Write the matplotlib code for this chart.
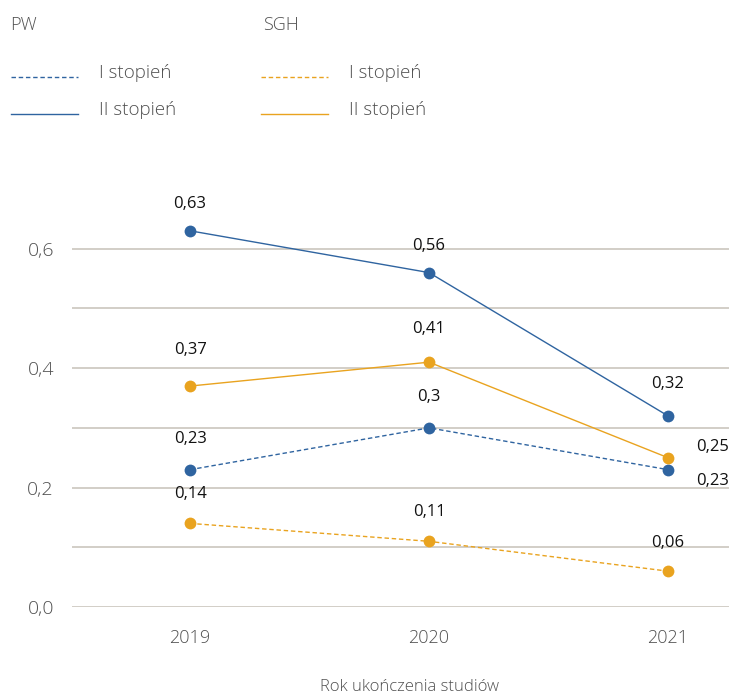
import matplotlib
matplotlib.use("Agg")
import matplotlib.pyplot as plt
from matplotlib.lines import Line2D

years = ["2019", "2020", "2021"]
pw_1 = [0.23, 0.30, 0.23]
pw_2 = [0.63, 0.56, 0.32]
sgh_1 = [0.14, 0.11, 0.06]
sgh_2 = [0.37, 0.41, 0.25]
yticks_major = [0.0, 0.2, 0.4, 0.6]
ytick_labels = ["0,0", "0,2", "0,4", "0,6"]
gridlines = [0.0, 0.1, 0.2, 0.3, 0.4, 0.5, 0.6]
xlabel = "Rok ukończenia studiów"

BLUE = "#2F64A0"
ORANGE = "#E9A31F"
GRID = "#CFCAC3"
TICK = "#505050"
FONT = ["Open Sans", "DejaVu Sans"]

plt.rcParams["font.family"] = FONT

fig = plt.figure(figsize=(7.29, 6.95), dpi=100)
ax = fig.add_axes([72/729, 88/695, 657/729, 418/695])

x = list(range(len(years)))
series = [
    (pw_1, BLUE, "--"),
    (pw_2, BLUE, "-"),
    (sgh_1, ORANGE, "--"),
    (sgh_2, ORANGE, "-"),
]
for vals, col, ls in series:
    ln, = ax.plot(x, vals, color=col, lw=1.0, marker="o", markersize=8.5,
                  markeredgewidth=0, zorder=3)
    if ls == "--":
        ln.set_dashes((3.2, 2.0))

def fmt(v):
    s = ("%.2f" % v).rstrip("0")
    if s.endswith("."):
        s = s[:-1]
    return s.replace(".", ",")

# data labels
def lab(xi, v, dx=0, dy=22, ha="center"):
    ax.annotate(fmt(v), (xi, v), xytext=(dx, dy), textcoords="offset points",
                ha=ha, va="center", fontsize=12, color="#111111")

for i in range(2):
    lab(i, pw_1[i], dy=22)
    lab(i, pw_2[i], dy=19)
    lab(i, sgh_1[i], dy=21)
    lab(i, sgh_2[i], dy=26 if i == 0 else 24)
lab(2, pw_2[2], dy=23)
lab(2, sgh_1[2], dy=20)
lab(2, sgh_2[2], dx=32, dy=8)
lab(2, pw_1[2], dx=32, dy=-8)

ax.set_xlim(-0.494, 2.255)
ax.set_ylim(0, 0.7)
for g in gridlines:
    ax.axhline(g, color=GRID, lw=1.3, zorder=1)

ax.set_yticks(yticks_major)
ax.set_yticklabels(ytick_labels)
ax.set_xticks(x)
ax.set_xticklabels(years)
ax.tick_params(axis="y", length=0, pad=13, labelsize=14, labelcolor=TICK)
ax.tick_params(axis="x", length=0, pad=16, labelsize=13, labelcolor=TICK)
for lbl in ax.get_xticklabels() + ax.get_yticklabels():
    lbl.set_fontweight("light")
for s in ax.spines.values():
    s.set_visible(False)

fig.text(410/729, 1 - 687/695, xlabel, ha="center", va="center",
         fontsize=12, color=TICK, fontweight="light")

# legend
def fx(px):
    return px / 729
def fy(py):
    return 1 - py / 695

fig.text(fx(10), fy(25), "PW", fontsize=13, color=TICK, va="center", fontweight="light")
fig.text(fx(263), fy(25), "SGH", fontsize=13, color=TICK, va="center", fontweight="light")
for x0, col in [(11, BLUE), (261, ORANGE)]:
    for yy, ls, text in [(77, "--", "I stopień"), (114, "-", "II stopień")]:
        l = Line2D([fx(x0), fx(x0 + 67)], [fy(yy), fy(yy)], color=col, lw=1.0,
                   transform=fig.transFigure)
        if ls == "--":
            l.set_dashes((3.2, 2.0))
        fig.add_artist(l)
        fig.text(fx(x0 + 88), fy(yy - 4), text, fontsize=13.5, color=TICK,
                 va="center", fontweight="light")

fig.savefig("out.png", dpi=100)
